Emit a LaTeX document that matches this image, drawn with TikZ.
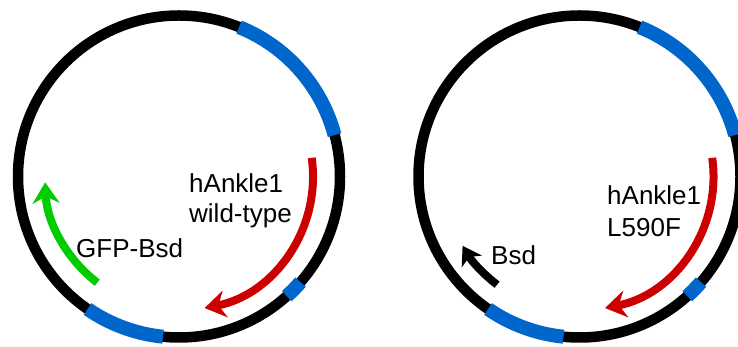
\documentclass[tikz,border=0pt]{standalone}
\usepackage{fontspec}
\setmainfont{Liberation Sans}
\usetikzlibrary{arrows.meta}
\definecolor{plasblue}{RGB}{0,102,204}
\definecolor{plasred}{RGB}{204,0,0}
\definecolor{plasgreen}{RGB}{0,204,0}
\begin{document}
\begin{tikzpicture}[x=1pt,y=1pt,
  backbone/.style={draw=black,line width=10.5pt},
  region/.style={draw=plasblue,line width=14pt},
  gene/.style={line width=8pt,-{Stealth[length=21pt,width=27pt,inset=7pt]}},
  lbl/.style={anchor=base west,inner sep=0pt,font=\fontsize{26}{30}\selectfont}]
\useasboundingbox (0,0) rectangle (738,347);
\clip (0,0) rectangle (738,347);
\coordinate (cL) at (179,170.5);
\coordinate (cR) at (579.5,170.5);
\foreach \c in {cL,cR}{
  \draw[backbone] (\c) circle[radius=161];
  \draw[region] ([shift={(14.9:161)}]\c) arc[start angle=14.9,end angle=68.1,radius=161];
  \draw[region] ([shift={(235.4:161)}]\c) arc[start angle=235.4,end angle=264.3,radius=161];
  \draw[region] ([shift={(-48:161)}]\c) arc[start angle=-48,end angle=-41,radius=161];
  \draw[gene,plasred] ([shift={(8:134)}]\c) arc[start angle=8,end angle=-79,radius=134];
}
\draw[gene,plasgreen] ([shift={(232.4:134)}]cL) arc[start angle=232.4,end angle=182.5,radius=134];
\draw[gene,black,-{Stealth[length=18pt,width=23pt,inset=5pt]}] ([shift={(232.7:136)}]cR) arc[start angle=232.7,end angle=210.5,radius=135];
\node[lbl] (tL1) at (189,347-193) {hAnkle1};
\node[lbl] (tL2) at (189,347-223) {wild-type};
\node[lbl] (tG) at (76,347-258) {GFP-Bsd};
\node[lbl] (tR1) at (607,347-205) {hAnkle1};
\node[lbl] (tR2) at (607,347-236.5) {L590F};
\node[lbl] (tB) at (491,347-265) {Bsd};
\end{tikzpicture}
\end{document}
